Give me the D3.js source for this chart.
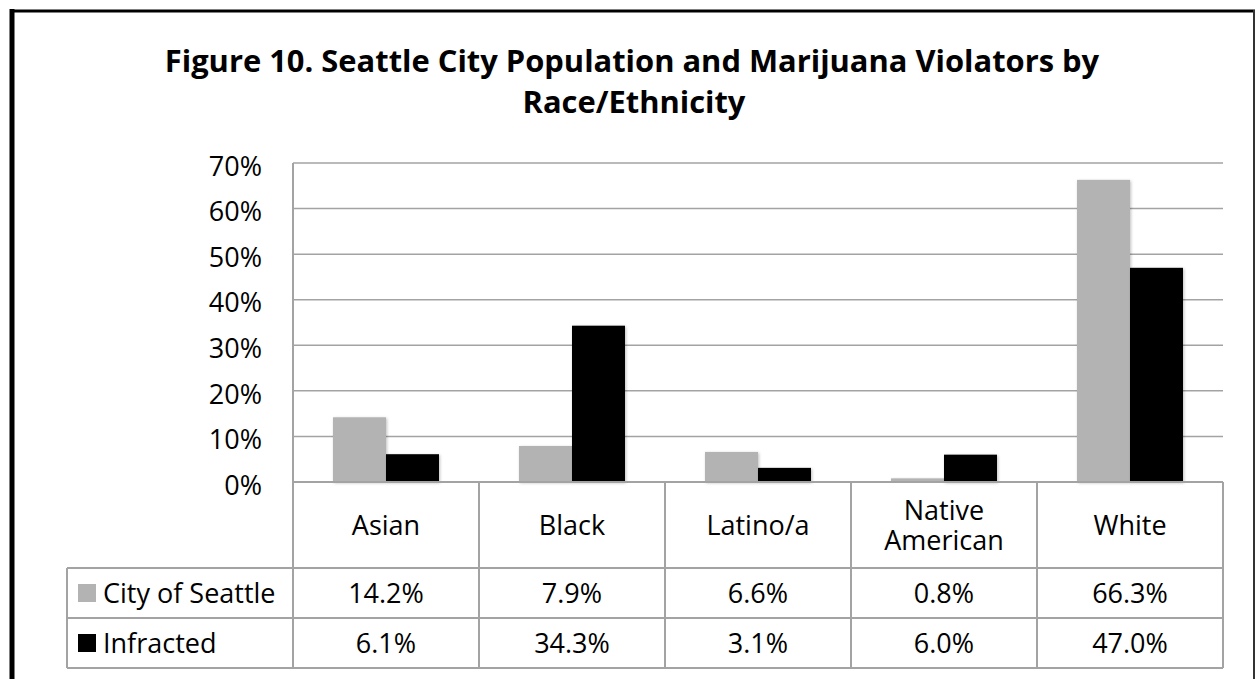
<!DOCTYPE html>
<html>
<head>
<meta charset="utf-8">
<script src="https://cdn.jsdelivr.net/npm/d3@7"></script>
<style>
  body { margin: 0; background: #fff; }
  svg { display: block; font-family: "Open Sans", "Liberation Sans", sans-serif; }
</style>
</head>
<body>
<div id="chart"></div>
<script>
const categories = ["Asian", "Black", "Latino/a", "Native American", "White"];
const seriesNames = ["City of Seattle", "Infracted"];
const cityOfSeattle = [14.2, 7.9, 6.6, 0.8, 66.3];
const infracted = [6.1, 34.3, 3.1, 6.0, 47.0];
const yTicks = [0, 10, 20, 30, 40, 50, 60, 70];
const titleLines = ["Figure 10. Seattle City Population and Marijuana Violators by", "Race/Ethnicity"];

const width = 1257;
const height = 679;
const colors = ["#b3b3b3", "#000000"];
const gridColor = "#a3a3a3";
const fontSize = 27;

const plotLeft = 293, plotRight = 1223, plotTop = 163, plotBottom = 482;
const headerBottom = 568, rowH = 50;
const legendLeft = 67;

const svg = d3.select("#chart")
  .append("svg")
  .attr("width", width)
  .attr("height", height);

svg.append("rect").attr("width", width).attr("height", height).attr("fill", "#fff");

const defs = svg.append("defs");
const shadow = defs.append("filter").attr("id", "shadow")
  .attr("x", "-20%").attr("y", "-20%").attr("width", "140%").attr("height", "140%");
shadow.append("feDropShadow")
  .attr("dx", 1).attr("dy", 1).attr("stdDeviation", 1.5)
  .attr("flood-color", "#000").attr("flood-opacity", 0.25);

// outer frame
svg.append("line").attr("x1", 12).attr("x2", 12).attr("y1", 9).attr("y2", height)
  .attr("stroke", "#000").attr("stroke-width", 5);
svg.append("line").attr("x1", 10).attr("x2", 1255).attr("y1", 11).attr("y2", 11)
  .attr("stroke", "#000").attr("stroke-width", 3);
svg.append("line").attr("x1", 1254).attr("x2", 1254).attr("y1", 10).attr("y2", height)
  .attr("stroke", "#333").attr("stroke-width", 2);

// title, line 1 fitted to its width in the reference
const title = svg.append("g").attr("font-weight", "bold").attr("fill", "#000")
  .attr("text-anchor", "middle");
const t1 = title.append("text").attr("x", 632).attr("y", 72).attr("font-size", 28).text(titleLines[0]);
const fitSize = 28 * 935 / t1.node().getComputedTextLength();
t1.attr("font-size", fitSize);
title.append("text").attr("x", 634).attr("y", 113).attr("font-size", fitSize).text(titleLines[1]);

const data = categories.map((c, i) => ({ category: c, values: [cityOfSeattle[i], infracted[i]] }));

const x0 = d3.scaleBand().domain(categories).range([plotLeft, plotRight]).padding(0);
const x1 = d3.scaleBand().domain(seriesNames).range([0, x0.bandwidth()])
  .paddingInner(0).paddingOuter(0.755);
const y = d3.scaleLinear().domain([0, 70]).range([plotBottom, plotTop]);

// gridlines
svg.append("g")
  .selectAll("line")
  .data(yTicks)
  .join("line")
  .attr("x1", plotLeft).attr("x2", plotRight)
  .attr("y1", d => y(d)).attr("y2", d => y(d))
  .attr("stroke", gridColor).attr("stroke-width", 1.5);

// y axis labels
const yAxis = svg.append("g")
  .attr("transform", `translate(${plotLeft - 31},0)`)
  .call(d3.axisLeft(y).tickValues(yTicks).tickSize(0).tickPadding(0).tickFormat(d => d + "%"));
yAxis.select(".domain").remove();
yAxis.selectAll("text")
  .attr("font-family", "'Open Sans', sans-serif")
  .attr("font-size", fontSize)
  .attr("fill", "#000")
  .attr("dy", "0.45em");

// bars
const groups = svg.append("g")
  .selectAll("g")
  .data(data)
  .join("g")
  .attr("transform", d => `translate(${x0(d.category)},0)`);

groups.selectAll("rect")
  .data(d => d.values.map((v, i) => ({ key: seriesNames[i], value: v, i })))
  .join("rect")
  .attr("x", d => x1(d.key))
  .attr("width", x1.bandwidth())
  .attr("y", d => y(d.value))
  .attr("height", d => y(0) - y(d.value))
  .attr("fill", d => colors[d.i])
  .attr("filter", "url(#shadow)");

// data table
const tableBottom = headerBottom + rowH * seriesNames.length;
const table = svg.append("g").attr("stroke", gridColor).attr("stroke-width", 2);

table.append("line").attr("x1", plotLeft).attr("x2", plotLeft).attr("y1", plotTop).attr("y2", tableBottom);
table.selectAll(".vcol")
  .data(categories)
  .join("line")
  .attr("x1", d => x0(d) + x0.bandwidth()).attr("x2", d => x0(d) + x0.bandwidth())
  .attr("y1", plotBottom).attr("y2", tableBottom);
table.append("line").attr("x1", plotLeft).attr("x2", plotRight).attr("y1", plotBottom).attr("y2", plotBottom);
[0, 1, 2].forEach(k => {
  const yy = headerBottom + k * rowH;
  table.append("line").attr("x1", legendLeft).attr("x2", plotRight).attr("y1", yy).attr("y2", yy);
});
table.append("line").attr("x1", legendLeft).attr("x2", legendLeft).attr("y1", headerBottom).attr("y2", tableBottom);

// header labels (two-line label kept as one text element)
const header = svg.append("g").attr("font-size", fontSize).attr("fill", "#000").attr("text-anchor", "middle");
categories.forEach(c => {
  const cx = x0(c) + x0.bandwidth() / 2;
  const words = c === "Native American" ? ["Native", "American"] : [c];
  const lineH = 30;
  const base = (plotBottom + headerBottom) / 2 + 10 - (words.length - 1) * lineH / 2;
  const txt = header.append("text").attr("x", cx).attr("y", base);
  words.forEach((w, k) => {
    txt.append("tspan").attr("x", cx).attr("dy", k === 0 ? 0 : lineH).text(w);
  });
});

// value rows
const series = [cityOfSeattle, infracted];
series.forEach((vals, r) => {
  const cy = headerBottom + r * rowH + rowH / 2 + 10;
  svg.append("g").attr("font-size", fontSize).attr("fill", "#000").attr("text-anchor", "middle")
    .selectAll("text")
    .data(vals)
    .join("text")
    .attr("x", (d, i) => x0(categories[i]) + x0.bandwidth() / 2)
    .attr("y", cy)
    .text(d => d.toFixed(1) + "%");

  // legend key
  svg.append("rect")
    .attr("x", 78).attr("y", headerBottom + r * rowH + 16)
    .attr("width", 18).attr("height", 18)
    .attr("fill", colors[r]);
  svg.append("text")
    .attr("x", 103).attr("y", cy)
    .attr("font-size", fontSize).attr("fill", "#000")
    .text(seriesNames[r]);
});
</script>
</body>
</html>
